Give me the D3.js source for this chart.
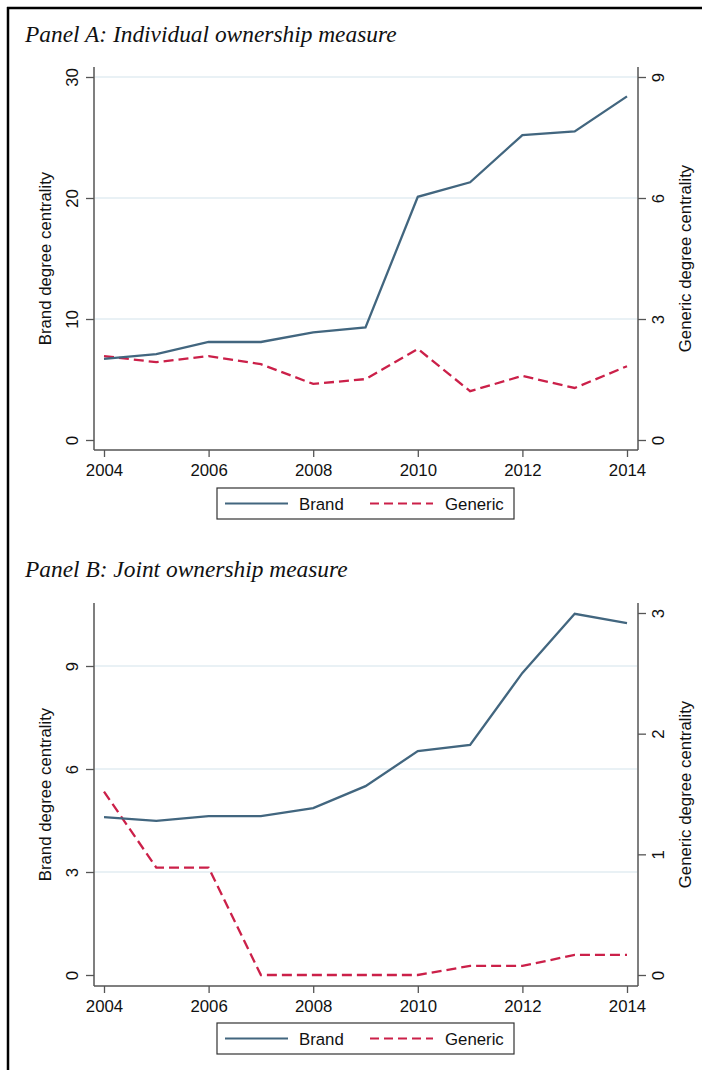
<!DOCTYPE html>
<html>
<head>
<meta charset="utf-8">
<script src="https://cdn.jsdelivr.net/npm/d3@7"></script>
<style>
html,body{margin:0;padding:0;background:#fff;}
svg{display:block;}
</style>
</head>
<body>
<script>
// ---- data ----
const years = [2004, 2005, 2006, 2007, 2008, 2009, 2010, 2011, 2012, 2013, 2014];
const xTicks = [2004, 2006, 2008, 2010, 2012, 2014];

const brandA   = [6.7, 7.1, 8.1, 8.1, 8.9, 9.3, 20.1, 21.3, 25.2, 25.5, 28.4];
const genericA = [2.08, 1.93, 2.08, 1.88, 1.39, 1.51, 2.26, 1.21, 1.59, 1.29, 1.83];
const leftTicksA  = [0, 10, 20, 30];
const rightTicksA = [0, 3, 6, 9];

const brandB   = [4.6, 4.49, 4.63, 4.63, 4.86, 5.5, 6.52, 6.7, 8.8, 10.52, 10.25];
const genericB = [1.52, 0.89, 0.89, 0, 0, 0, 0, 0.075, 0.075, 0.166, 0.166];
const leftTicksB  = [0, 3, 6, 9];
const rightTicksB = [0, 1, 2, 3];

const titles = ["Panel A: Individual ownership measure", "Panel B: Joint ownership measure"];
const seriesNames = ["Brand", "Generic"];
const leftTitle = "Brand degree centrality";
const rightTitle = "Generic degree centrality";

// ---- style ----
const W = 702, H = 1070;
const brandColor = "#42667f";
const genericColor = "#cb2049";
const axisColor = "#555";
const gridColor = "#e2edf2";
const sans = "'Liberation Sans', Arial, sans-serif";
const serif = "'Liberation Serif', 'Times New Roman', serif";

const svg = d3.select("body").append("svg").attr("width", W).attr("height", H);

// frame (top and left border)
svg.append("line").attr("x1", 7).attr("x2", W).attr("y1", 8).attr("y2", 8)
  .attr("stroke", "#000").attr("stroke-width", 2.5);
svg.append("line").attr("x1", 8).attr("x2", 8).attr("y1", 7).attr("y2", H)
  .attr("stroke", "#000").attr("stroke-width", 2.5);

const panels = [
  { title: titles[0], titleY: 42, top: 67, bottom: 450, zero: 440,
    leftMaxPos: 77, leftMax: 30, rightMax: 9, rightMaxPos: 77,
    brand: brandA, generic: genericA, lt: leftTicksA, rt: rightTicksA,
    grid: [10, 20, 30], labelY: 476, legendTop: 488 },
  { title: titles[1], titleY: 577, top: 603, bottom: 986, zero: 975,
    leftMaxPos: 666, leftMax: 9, rightMax: 3, rightMaxPos: 613,
    brand: brandB, generic: genericB, lt: leftTicksB, rt: rightTicksB,
    grid: [3, 6, 9], labelY: 1012, legendTop: 1023 }
];

const axL = 94, axR = 638;
const x = d3.scaleLinear().domain([2004, 2014]).range([104, 627]);

panels.forEach(p => {
  const g = svg.append("g");
  const yL = d3.scaleLinear().domain([0, p.leftMax]).range([p.zero, p.leftMaxPos]);
  const yR = d3.scaleLinear().domain([0, p.rightMax]).range([p.zero, p.rightMaxPos]);

  g.append("text").attr("x", 25).attr("y", p.titleY)
    .attr("font-family", serif).attr("font-style", "italic").attr("font-size", 23.4)
    .attr("fill", "#111").text(p.title);

  // grid
  g.selectAll(".grid").data(p.grid).enter().append("line")
    .attr("x1", axL + 1).attr("x2", axR - 1)
    .attr("y1", d => yL(d)).attr("y2", d => yL(d))
    .attr("stroke", gridColor).attr("stroke-width", 1.5);

  // axes
  const styleAxis = (sel) => {
    sel.select(".domain").remove();
    sel.selectAll(".tick line").attr("stroke", axisColor).attr("stroke-width", 1.3);
    sel.selectAll(".tick text").attr("font-family", sans).attr("font-size", 16.8).attr("fill", "#111");
  };

  const gl = g.append("g").attr("transform", `translate(${axL},0)`)
    .call(d3.axisLeft(yL).tickValues(p.lt).tickSize(8).tickFormat(d3.format("d")));
  styleAxis(gl);
  gl.selectAll(".tick text").attr("x", null).attr("dy", null).attr("text-anchor", "middle")
    .attr("transform", "translate(-16,0) rotate(-90)");

  const gr = g.append("g").attr("transform", `translate(${axR},0)`)
    .call(d3.axisRight(yR).tickValues(p.rt).tickSize(8).tickFormat(d3.format("d")));
  styleAxis(gr);
  gr.selectAll(".tick text").attr("x", null).attr("dy", null).attr("text-anchor", "middle")
    .attr("transform", "translate(26,0) rotate(-90)");

  const gb = g.append("g").attr("transform", `translate(0,${p.bottom})`)
    .call(d3.axisBottom(x).tickValues(xTicks).tickSize(7).tickFormat(d3.format("d")));
  styleAxis(gb);
  gb.selectAll(".tick text").attr("dy", null).attr("y", p.labelY - p.bottom);

  // axis lines
  g.append("line").attr("x1", axL).attr("x2", axL).attr("y1", p.top).attr("y2", p.bottom)
    .attr("stroke", axisColor).attr("stroke-width", 1.5);
  g.append("line").attr("x1", axR).attr("x2", axR).attr("y1", p.top).attr("y2", p.bottom)
    .attr("stroke", axisColor).attr("stroke-width", 1.5);
  g.append("line").attr("x1", axL).attr("x2", axR).attr("y1", p.bottom).attr("y2", p.bottom)
    .attr("stroke", axisColor).attr("stroke-width", 1.5);

  // axis titles
  const mid = (p.top + p.bottom) / 2;
  g.append("text").attr("transform", `translate(51,${mid}) rotate(-90)`)
    .attr("text-anchor", "middle").attr("font-family", sans).attr("font-size", 16.8)
    .attr("fill", "#111").text(leftTitle);
  g.append("text").attr("transform", `translate(691,${mid}) rotate(-90)`)
    .attr("text-anchor", "middle").attr("font-family", sans).attr("font-size", 16.8)
    .attr("fill", "#111").text(rightTitle);

  // lines
  const lineL = d3.line().x((d, i) => x(years[i])).y(d => yL(d));
  const lineR = d3.line().x((d, i) => x(years[i])).y(d => yR(d));
  g.append("path").datum(p.generic).attr("d", lineR).attr("fill", "none")
    .attr("stroke", genericColor).attr("stroke-width", 2.3).attr("stroke-dasharray", "10,5");
  g.append("path").datum(p.brand).attr("d", lineL).attr("fill", "none")
    .attr("stroke", brandColor).attr("stroke-width", 2.3);

  // legend
  const lg = g.append("g").attr("transform", `translate(217,${p.legendTop})`);
  lg.append("rect").attr("x", 0).attr("y", 0).attr("width", 297).attr("height", 31)
    .attr("fill", "#fff").attr("stroke", "#333").attr("stroke-width", 1.2);
  lg.append("line").attr("x1", 8).attr("x2", 71).attr("y1", 15.5).attr("y2", 15.5)
    .attr("stroke", brandColor).attr("stroke-width", 2);
  lg.append("text").attr("x", 82).attr("y", 22).attr("font-family", sans).attr("font-size", 16.8)
    .attr("fill", "#111").text(seriesNames[0]);
  lg.append("line").attr("x1", 153).attr("x2", 216).attr("y1", 15.5).attr("y2", 15.5)
    .attr("stroke", genericColor).attr("stroke-width", 2).attr("stroke-dasharray", "9,5");
  lg.append("text").attr("x", 228).attr("y", 22).attr("font-family", sans).attr("font-size", 16.8)
    .attr("fill", "#111").text(seriesNames[1]);
});
</script>
</body>
</html>
